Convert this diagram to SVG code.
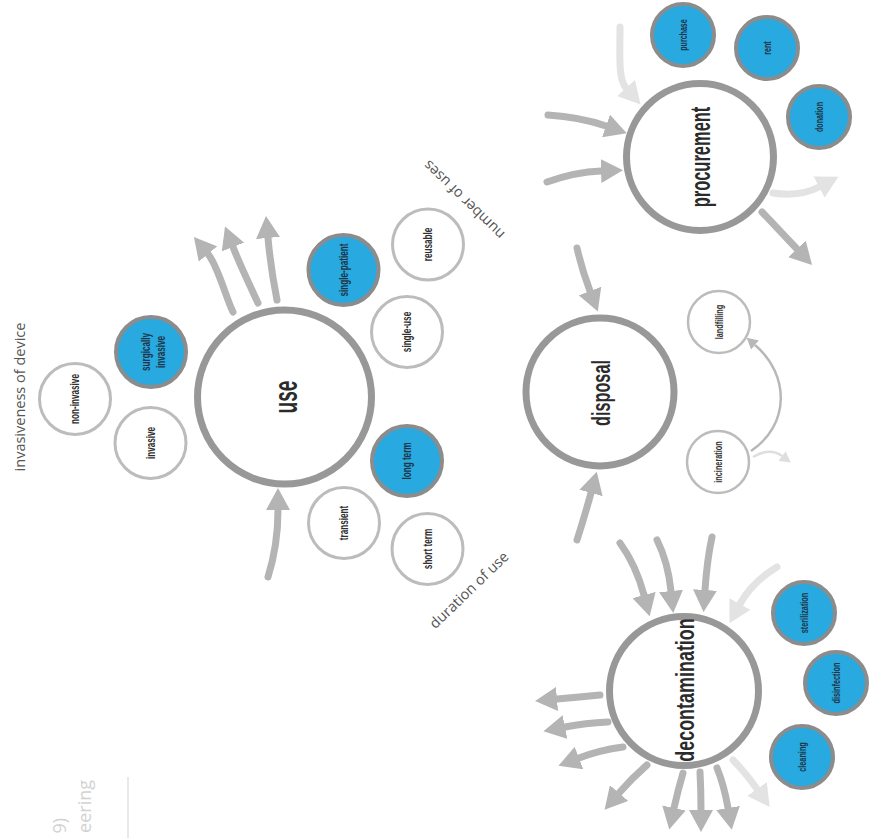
<svg xmlns="http://www.w3.org/2000/svg" width="872" height="838" viewBox="0 0 872 838">
<style>
.big{fill:#fff;stroke:#989898;stroke-width:7}
.wn{fill:#fff;stroke:#bcbcbc;stroke-width:3}
.bn{fill:#28a9e0;stroke:#8c8c8c;stroke-width:4}
.wsm{fill:#fff;stroke:#bcbcbc;stroke-width:2.5}
.bt{font-family:"Liberation Sans",Arial,sans-serif;font-weight:bold;fill:#2b2b2b;text-anchor:middle}
.nt{font-family:"Liberation Sans",Arial,sans-serif;font-weight:bold;font-size:12px;fill:#2f2f2f;text-anchor:middle}
.st{font-family:"Liberation Sans",Arial,sans-serif;font-weight:bold;font-size:10px;fill:#1f3447;text-anchor:middle}
.lab{font-family:"Open Sans","DejaVu Sans",sans-serif;font-size:14.5px;fill:#555;text-anchor:middle}
.ghost{font-family:"Open Sans","DejaVu Sans",sans-serif;font-size:18px;fill:#d2d2d2;text-anchor:end}
.a{fill:none;stroke:#b4b4b4;stroke-width:7;stroke-linecap:round;marker-end:url(#ah)}
.al{fill:none;stroke:#e3e3e3;stroke-width:7;stroke-linecap:round;marker-end:url(#ahl)}
.as{fill:none;stroke:#b8b8b8;stroke-width:2.5;marker-end:url(#ahs)}
.asl{fill:none;stroke:#dedede;stroke-width:2.5;marker-end:url(#ahsl)}
</style>
<defs>
<marker id="ah" markerUnits="userSpaceOnUse" markerWidth="24" markerHeight="24" viewBox="0 0 24 24" refX="0" refY="12" orient="auto"><path d="M0,0 L22,12 L0,24 z" fill="#b4b4b4"/></marker>
<marker id="ahl" markerUnits="userSpaceOnUse" markerWidth="24" markerHeight="24" viewBox="0 0 24 24" refX="0" refY="12" orient="auto"><path d="M0,0 L22,12 L0,24 z" fill="#e3e3e3"/></marker>
<marker id="ahs" markerUnits="userSpaceOnUse" markerWidth="12" markerHeight="12" viewBox="0 0 12 12" refX="0" refY="6" orient="auto"><path d="M0,0 L11,6 L0,12 z" fill="#b8b8b8"/></marker>
<marker id="ahsl" markerUnits="userSpaceOnUse" markerWidth="12" markerHeight="12" viewBox="0 0 12 12" refX="0" refY="6" orient="auto"><path d="M0,0 L11,6 L0,12 z" fill="#dedede"/></marker>
</defs>
<rect width="872" height="838" fill="#fff"/>

<g id="connectors">
<path class="a" d="M233,312 C226,298 218,266 208,254"/>
<path class="a" d="M258,303 C252,290 240,265 233,247"/>
<path class="a" d="M277,300 C274,285 270,260 268,238"/>
<path class="a" d="M268,577 Q278,545 278,510"/>
<path class="al" d="M620,27 C620,55 618,79 626,88"/>
<path class="a" d="M548,115 Q580,117 606,126"/>
<path class="a" d="M547,182 Q575,172 601,171"/>
<path class="al" d="M773,193 Q800,197 819,187"/>
<path class="a" d="M762,212 L797,249"/>
<path class="a" d="M577,248 Q582,270 590,291"/>
<path class="a" d="M577,540 Q585,515 591,493"/>
<path class="as" d="M751,451 C790,425 790,375 755,345"/>
<path class="asl" d="M753,457 Q770,447 782,456"/>
<path class="a" d="M620,543 Q636,565 644,595"/>
<path class="a" d="M657,540 Q668,562 671,591"/>
<path class="a" d="M712,537 Q707,560 705,590"/>
<path class="al" d="M777,567 Q752,582 740,604"/>
<path class="a" d="M600,695 Q580,697 557,699"/>
<path class="a" d="M608,722 Q585,723 565,727"/>
<path class="a" d="M623,747 Q600,750 579,758"/>
<path class="a" d="M647,765 Q632,778 619,793"/>
<path class="a" d="M683,773 Q678,790 674,808"/>
<path class="a" d="M700,772 Q701,790 701,810"/>
<path class="a" d="M717,768 Q724,785 728,808"/>
<path class="al" d="M733,760 Q745,772 757,789"/>
</g>

<g id="use"><circle class="big" cx="284.5" cy="397" r="87"/><text class="bt" font-size="34" transform="translate(288,397) rotate(-90) scale(0.56,1)" y="9">use</text></g>
<g id="procurement"><circle class="big" cx="700" cy="157" r="73.5"/><text class="bt" font-size="27" transform="translate(703,157) rotate(-90) scale(0.61,1)" y="7">procurement</text></g>
<g id="disposal"><circle class="big" cx="600" cy="392" r="74"/><text class="bt" font-size="25" transform="translate(603,393) rotate(-90) scale(0.65,1)" y="7">disposal</text></g>
<g id="decontamination"><circle class="big" cx="684" cy="691" r="74.5"/><text class="bt" font-size="26" transform="translate(687,690) rotate(-90) scale(0.69,1)" y="7">decontamination</text></g>

<g id="non-invasive"><circle class="wn" cx="75" cy="399" r="35.5"/><text class="nt" transform="translate(75,399) rotate(-90) scale(0.68,1)" y="4">non-invasive</text></g>
<g id="invasive"><circle class="wn" cx="150.5" cy="443" r="35.5"/><text class="nt" transform="translate(150.5,443) rotate(-90) scale(0.68,1)" y="4">invasive</text></g>
<g id="surgically-invasive"><circle class="bn" cx="151" cy="352" r="35"/><text class="nt" transform="translate(151,352) rotate(-90) scale(0.68,1)"><tspan x="0" y="-1" style="fill:#1f3447">surgically</tspan><tspan x="0" y="14" style="fill:#1f3447">invasive</tspan></text></g>
<g id="single-patient"><circle class="bn" cx="343.5" cy="270" r="35"/><text class="nt" style="fill:#1f3447" transform="translate(343.5,270) rotate(-90) scale(0.68,1)" y="4">single-patient</text></g>
<g id="reusable"><circle class="wn" cx="428" cy="244.5" r="35.5"/><text class="nt" transform="translate(428,244.5) rotate(-90) scale(0.68,1)" y="4">reusable</text></g>
<g id="single-use"><circle class="wn" cx="407" cy="332" r="35.5"/><text class="nt" transform="translate(407,332) rotate(-90) scale(0.68,1)" y="4">single-use</text></g>
<g id="long-term"><circle class="bn" cx="407" cy="461" r="35"/><text class="nt" style="fill:#1f3447" transform="translate(407,461) rotate(-90) scale(0.68,1)" y="4">long term</text></g>
<g id="transient"><circle class="wn" cx="344" cy="523" r="35.5"/><text class="nt" transform="translate(344,523) rotate(-90) scale(0.68,1)" y="4">transient</text></g>
<g id="short-term"><circle class="wn" cx="427.5" cy="549" r="35.5"/><text class="nt" transform="translate(427.5,549) rotate(-90) scale(0.68,1)" y="4">short term</text></g>

<g id="purchase"><circle class="bn" cx="683" cy="35" r="31"/><text class="st" transform="translate(683,35) rotate(-90) scale(0.71,1)" y="3.5">purchase</text></g>
<g id="rent"><circle class="bn" cx="767" cy="48" r="31"/><text class="st" transform="translate(767,48) rotate(-90) scale(0.71,1)" y="3.5">rent</text></g>
<g id="donation"><circle class="bn" cx="819" cy="117" r="31"/><text class="st" transform="translate(819,117) rotate(-90) scale(0.71,1)" y="3.5">donation</text></g>
<g id="sterilization"><circle class="bn" cx="804" cy="613" r="31"/><text class="st" transform="translate(804,613) rotate(-90) scale(0.73,1)" y="3.5">sterilization</text></g>
<g id="disinfection"><circle class="bn" cx="836" cy="683" r="31"/><text class="st" transform="translate(836,683) rotate(-90) scale(0.73,1)" y="3.5">disinfection</text></g>
<g id="cleaning"><circle class="bn" cx="802" cy="757" r="31"/><text class="st" transform="translate(802,757) rotate(-90) scale(0.73,1)" y="3.5">cleaning</text></g>
<g id="landfilling"><circle class="wsm" cx="719" cy="322" r="31"/><text class="st" style="fill:#333" transform="translate(719,322) rotate(-90) scale(0.73,1)" y="3.5">landfilling</text></g>
<g id="incineration"><circle class="wsm" cx="718" cy="462" r="31"/><text class="st" style="fill:#333" transform="translate(718,462) rotate(-90) scale(0.73,1)" y="3.5">incineration</text></g>

<g id="labels">
<text class="lab" transform="translate(25,397) rotate(-90)">invasiveness of device</text>
<text class="lab" transform="translate(472.5,593.6) rotate(-44)">duration of use</text>
<text class="lab" transform="translate(467.4,196.3) rotate(224)">number of uses</text>
<text class="ghost" transform="translate(91,780) rotate(-90)">eering</text>
<text class="ghost" transform="translate(66,818) rotate(-90)">9)</text>
<line x1="128" y1="777" x2="128" y2="838" stroke="#e2e2e2" stroke-width="1.5"/>
</g>
</svg>
